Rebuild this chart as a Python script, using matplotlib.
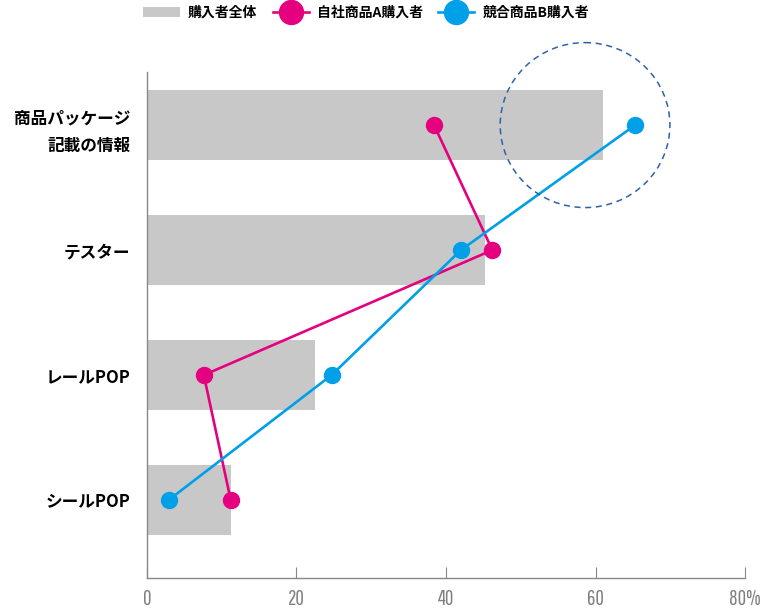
import matplotlib.pyplot as plt
from matplotlib.patches import Ellipse

plt.rcParams['font.family'] = ['Noto Sans CJK JP', 'DejaVu Sans']

categories = ["商品パッケージ\n記載の情報", "テスター", "レールPOP", "シールPOP"]
total = [61.0, 45.2, 22.5, 11.2]
own_a = [38.4, 46.2, 7.6, 11.2]
rival_b = [65.3, 42.0, 24.7, 2.9]
xticks = [0, 20, 40, 60, 80]
xticklabels = ["0", "20", "40", "60", "80%"]

gray = "#c8c8c8"
pink = "#e4007f"
blue = "#00a0e9"

fig = plt.figure(figsize=(7.6, 6.11), dpi=100)
ax = fig.add_axes([0.1934, 0.054, 0.7869, 0.828])

ypos = list(range(len(categories)))
bars = ax.barh(ypos, total, height=0.56, color=gray, label="購入者全体", zorder=1)
la, = ax.plot(own_a, ypos, color=pink, lw=1.9, marker="o", ms=11.5, label="自社商品A購入者", zorder=3)
lb, = ax.plot(rival_b, ypos, color=blue, lw=1.9, marker="o", ms=11.5, label="競合商品B購入者", zorder=4)

# highlight circle around top blue point
ax.add_patch(Ellipse((58.6, 0.0), 22.7, 1.32, fill=False, ls=(0, (4, 3)),
                     ec="#2e62a8", lw=1.1, clip_on=False, zorder=5))

ax.set_xlim(0, 80)
ax.set_ylim(3.624, -0.424)
ax.set_yticks(ypos)
ax.set_yticklabels(categories, fontsize=12, fontweight=600, ha="right", linespacing=1.7)
ax.tick_params(axis="y", length=0, pad=12)
ax.set_xticks(xticks)
ax.set_xticklabels(xticklabels, fontsize=15, color="#808080",
                   family=["Pathway Gothic One", "Roboto Condensed", "DejaVu Sans"])
ax.tick_params(axis="x", direction="in", length=8, color="#888888", pad=8)

for s in ["top", "right"]:
    ax.spines[s].set_visible(False)
for s in ["left", "bottom"]:
    ax.spines[s].set_color("#888888")
    ax.spines[s].set_linewidth(1.0)

fig.legend([bars, la, lb], ["購入者全体", "自社商品A購入者", "競合商品B購入者"],
           loc="center", bbox_to_anchor=(0.482, 0.979), ncol=3, frameon=False,
           prop={"size": 10, "weight": 600}, handlelength=2.6, handleheight=0.75,
           markerscale=1.5, columnspacing=1.1, handletextpad=0.6)

fig.savefig("out.png", dpi=100)
